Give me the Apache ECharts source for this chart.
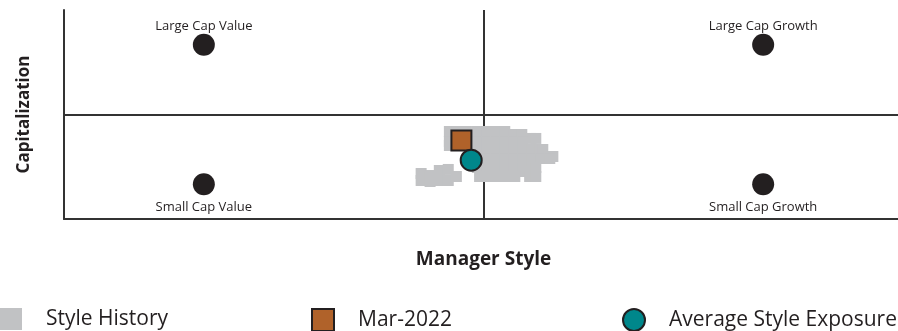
<!DOCTYPE html>
<html>
<head>
<meta charset="utf-8">
<script src="https://cdn.jsdelivr.net/npm/echarts@6/dist/echarts.min.js"></script>
<style>html,body{margin:0;padding:0;background:#fff}#c{width:898px;height:331px}</style>
</head>
<body>
<div id="c"></div>
<script>
// Style index corners
const indexNames = ['Large Cap Value', 'Large Cap Growth', 'Small Cap Value', 'Small Cap Growth'];
const indexX = [-1, 1, -1, 1];
const indexY = [1, 1, -1, -1];

// Style history (rolling windows)
const historyPoints = [
  [-0.122, -0.244], [-0.094, -0.244], [-0.061, -0.244],
  [-0.022, -0.244], [0.011, -0.244], [0.043, -0.244], [0.076, -0.244],
  [0.108, -0.287], [0.137, -0.287],
  [0.169, -0.344], [0.187, -0.344],
  [-0.122, -0.388], [-0.022, -0.388], [0.011, -0.388], [0.043, -0.388], [0.076, -0.388], [0.108, -0.388], [0.140, -0.388],
  [-0.122, -0.445],
  [-0.022, -0.502], [0.011, -0.502], [0.043, -0.502], [0.076, -0.502], [0.108, -0.502], [0.140, -0.502], [0.173, -0.502], [0.201, -0.502], [0.212, -0.502],
  [0.248, -0.603],
  [-0.022, -0.632], [0.011, -0.632], [0.043, -0.632], [0.076, -0.632], [0.108, -0.632], [0.140, -0.632], [0.173, -0.632], [0.205, -0.632], [0.237, -0.632],
  [-0.022, -0.761], [0.011, -0.761], [0.043, -0.761], [0.076, -0.761], [0.108, -0.761], [0.140, -0.761], [0.173, -0.761], [0.187, -0.761],
  [0.140, -0.818],
  [-0.014, -0.890], [0.022, -0.890], [0.054, -0.890], [0.086, -0.890], [0.112, -0.890], [0.165, -0.890], [0.187, -0.890],
  [-0.223, -0.847], [-0.223, -0.947], [-0.191, -0.876], [-0.191, -0.962],
  [-0.158, -0.804], [-0.158, -0.947], [-0.126, -0.789], [-0.126, -0.947], [-0.097, -0.890]
];

const currentLabel = 'Mar-2022';
const currentPoint = [-0.079, -0.373];
const averagePoint = [-0.044, -0.656];

const axisMin = -1.5, axisMax = 1.5;

const FONT = 'Open Sans';
const INK = '#231f20';

const chart = echarts.init(document.getElementById('c'), null, {renderer: 'canvas'});

const indexData = indexNames.map((n, i) => ({
  name: n,
  value: [indexX[i], indexY[i]],
  label: { position: indexY[i] > 0 ? 'top' : 'bottom', distance: indexY[i] > 0 ? 1 : 6 }
}));

function legendFor(name, left) {
  return {
    data: [name], left: left, top: 308, padding: 0, orient: 'horizontal',
    itemWidth: 22, itemHeight: 22,
    textStyle: { fontFamily: FONT, fontSize: 21, color: INK, padding: [0, 0, 0, 19] },
    selectedMode: false
  };
}

chart.setOption({
  animation: false,
  grid: { left: 64, right: -5, top: 10, bottom: 112, outerBoundsMode: 'none', containLabel: false },
  legend: [
    legendFor('Style History', 0),
    legendFor(currentLabel, 311),
    legendFor('Average Style Exposure', 622)
  ],
  xAxis: {
    type: 'value', min: axisMin, max: axisMax,
    name: 'Manager Style', nameLocation: 'middle', nameGap: 31,
    nameTextStyle: { fontFamily: FONT, fontWeight: 'bold', fontSize: 19, color: INK },
    axisLine: { onZero: false, lineStyle: { color: '#333', width: 2 } },
    axisTick: { show: false }, axisLabel: { show: false }, splitLine: { show: false }
  },
  yAxis: {
    type: 'value', min: axisMin, max: axisMax,
    name: 'Capitalization', nameLocation: 'middle', nameGap: 31, nameRotate: 90,
    nameTextStyle: { fontFamily: FONT, fontWeight: 'bold', fontSize: 17, color: INK },
    axisLine: { onZero: false, lineStyle: { color: '#333', width: 2 } },
    axisTick: { show: false }, axisLabel: { show: false }, splitLine: { show: false }
  },
  series: [
    {
      name: 'Style History', type: 'scatter', symbol: 'rect', symbolSize: 11,
      itemStyle: { color: '#c1c2c4', opacity: 1 },
      data: historyPoints, z: 3,
      markLine: {
        silent: true, symbol: 'none', label: { show: false },
        lineStyle: { color: '#333', width: 2, type: 'solid' },
        data: [{ xAxis: 0 }, { yAxis: 0 }],
        z: 2
      }
    },
    {
      name: 'Style Indices', type: 'scatter', symbol: 'circle', symbolSize: 22,
      itemStyle: { color: INK, opacity: 1 },
      label: { show: true, formatter: '{b}', fontFamily: FONT, fontSize: 13, color: INK },
      data: indexData, z: 4
    },
    {
      name: currentLabel, type: 'scatter', symbol: 'rect', symbolSize: 20,
      itemStyle: { color: '#b0622a', borderColor: INK, borderWidth: 2, opacity: 1 },
      data: [currentPoint], z: 5
    },
    {
      name: 'Average Style Exposure', type: 'scatter', symbol: 'circle', symbolSize: 21,
      itemStyle: { color: '#00878b', borderColor: INK, borderWidth: 2, opacity: 1 },
      data: [averagePoint], z: 6
    }
  ]
});
</script>
</body>
</html>
